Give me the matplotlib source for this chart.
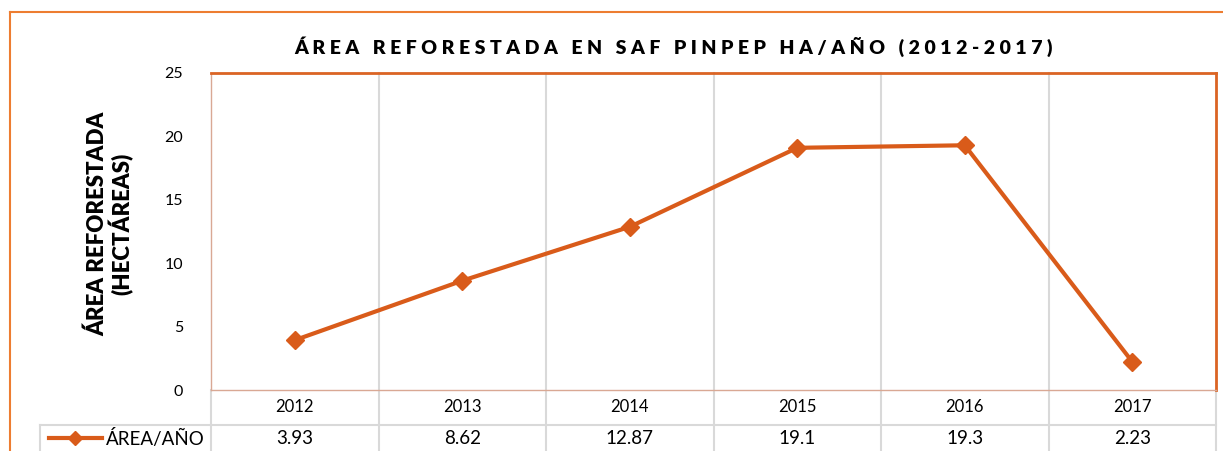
import matplotlib.pyplot as plt

plt.rcParams['font.family'] = ['Lato', 'DejaVu Sans']

years = ["2012", "2013", "2014", "2015", "2016", "2017"]
area = [3.93, 8.62, 12.87, 19.1, 19.3, 2.23]
value_labels = ["3.93", "8.62", "12.87", "19.1", "19.3", "2.23"]
series_name = "ÁREA/AÑO"
title = "ÁREA REFORESTADA EN SAF PINPEP HA/AÑO (2012-2017)"
ylabel = "ÁREA REFORESTADA\n(HECTÁREAS)"
yticks = [0, 5, 10, 15, 20, 25]

line_color = "#D95B1A"
border_color = "#ED7D31"
grid_color = "#D9D9D9"

W, H = 1223, 451
fig = plt.figure(figsize=(W / 100, H / 100), dpi=100)


def fx(px):
    return px / W


def fy(py):
    return 1 - py / H


# outer chart border (runs off the image on right/bottom)
fig.add_artist(plt.Line2D([fx(9.5), fx(1230)], [fy(11.5), fy(11.5)], color=border_color, lw=1.5))
fig.add_artist(plt.Line2D([fx(9.5), fx(9.5)], [fy(11.5), fy(460)], color=border_color, lw=1.5))

left, right, top, bottom = 211, 1216, 73, 390
ax = fig.add_axes([fx(left), fy(bottom), fx(right - left), fy(top) - fy(bottom)])


def py_to_data(py):
    # pixel row below the plot -> data y (for table rows)
    return -(py - bottom) / (bottom - top) * 25


x = list(range(len(years)))
ax.plot(x, area, color=line_color, lw=3, marker="D", markersize=9, zorder=3)
ax.set_xlim(-0.5, len(years) - 0.5)
ax.set_ylim(0, 25)
ax.set_yticks(yticks)
ax.set_yticklabels([str(t) for t in yticks], fontsize=11.5)
ax.tick_params(axis="y", length=0, pad=20)
ax.set_xticks([])

for side in ["top", "right"]:
    ax.spines[side].set_color("#DB6424")
    ax.spines[side].set_linewidth(2)
for side in ["left", "bottom"]:
    ax.spines[side].set_color("#D9A894")
    ax.spines[side].set_linewidth(1)

# vertical grid lines through plot and data table
for b in [i + 0.5 for i in range(len(years) - 1)]:
    ax.axvline(b, ymin=-0.2, ymax=1, color=grid_color, lw=1.5, clip_on=False, zorder=1)
for b in [-0.5, len(years) - 0.5]:
    ax.plot([b, b], [0, -6], color=grid_color, lw=1.5, clip_on=False, zorder=1)

# data table
row_line = py_to_data(425)
ax.plot([-1.52, len(years) - 0.5], [row_line, row_line], color=grid_color, lw=1.5, clip_on=False)
ax.plot([-1.52, -1.52], [row_line, -6], color=grid_color, lw=1.5, clip_on=False)
for i, (yr, v) in enumerate(zip(years, value_labels)):
    ax.text(i, py_to_data(407), yr, ha="center", va="center", fontsize=12)
    ax.text(i, py_to_data(439), v, ha="center", va="center", fontsize=13.5)

leg_y = py_to_data(438)
ax.plot([-1.47, -1.15], [leg_y, leg_y], color=line_color, lw=3, clip_on=False)
ax.plot([-1.31], [leg_y], color=line_color, marker="D", markersize=7, clip_on=False)
ax.text(-1.13, leg_y, series_name, ha="left", va="center", fontsize=13.5)

fig.text(fx(110), fy(224), ylabel, rotation=90, ha="center", va="center",
         fontsize=16, fontweight="heavy", linespacing=1.0)

spaced = "   ".join(" ".join(word) for word in title.split(" "))
fig.text(fx(673), fy(47), spaced, ha="center", va="center", fontsize=14, fontweight="heavy")

fig.savefig("out.png", dpi=100)
